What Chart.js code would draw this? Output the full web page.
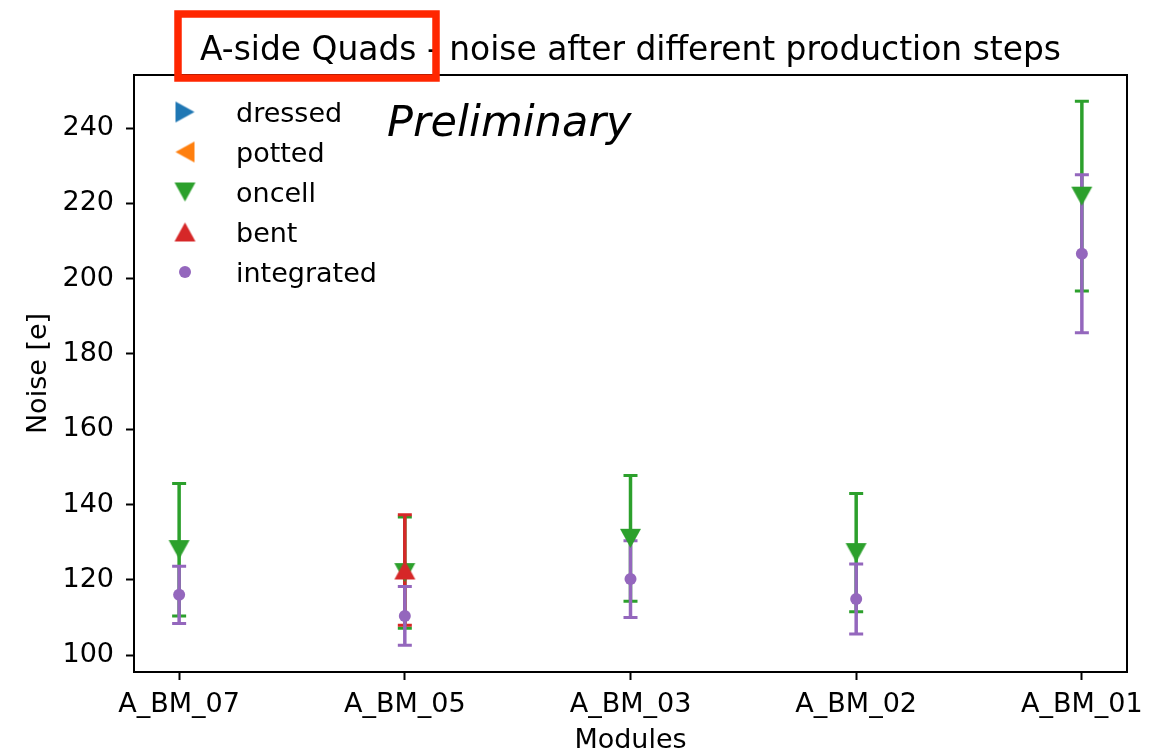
<!DOCTYPE html>
<html>
<head>
<meta charset="utf-8">
<script src="https://cdn.jsdelivr.net/npm/chart.js@4.4.1/dist/chart.umd.min.js"></script>
<style>
  html, body { margin: 0; padding: 0; background: #fff; }
  canvas { display: block; }
</style>
</head>
<body>
<canvas id="noiseChart" width="1162" height="752"></canvas>
<script>
// modules along the x axis
const modules = ['A_BM_07', 'A_BM_05', 'A_BM_03', 'A_BM_02', 'A_BM_01'];
const yTicks = [100, 120, 140, 160, 180, 200, 220, 240];

// mean noise [e] and spread per production step (null = no measurement)
const dressedNoise = [null, null, null, null, null];
const dressedErr = [null, null, null, null, null];
const pottedNoise = [null, null, null, null, null];
const pottedErr = [null, null, null, null, null];
const oncellNoise = [128.0, 121.9, 131.0, 127.2, 221.9];
const oncellErr = [17.6, 14.8, 16.7, 15.7, 25.2];
const bentNoise = [null, 122.6, null, null, null];
const bentErr = [null, 14.7, null, null, null];
const integratedNoise = [116.0, 110.4, 120.2, 114.9, 206.6];
const integratedErr = [7.6, 7.8, 10.2, 9.3, 21.0];

const FONT = "'DejaVu Sans', sans-serif";

// triangle marker centred on its bounding box (points up; rotated per series)
function triangleMarker(color) {
    const w = 21, h = 19;
    const c = document.createElement('canvas');
    c.width = w + 2;
    c.height = h + 2;
    const g = c.getContext('2d');
    g.fillStyle = color;
    g.beginPath();
    g.moveTo(1 + w / 2, 1);
    g.lineTo(1 + w, 1 + h);
    g.lineTo(1, 1 + h);
    g.closePath();
    g.fill();
    return c;
}

// later steps are drawn on top of earlier ones
function series(idx, label, noise, err, color, pointStyle, rotation, radius) {
    return {
        label: label,
        order: -idx,
        data: noise.map((v, i) => ({ x: i, y: v })),
        errors: err,
        borderColor: color,
        backgroundColor: color,
        pointStyle: pointStyle === 'triangle' ? triangleMarker(color) : pointStyle,
        rotation: rotation,
        pointRadius: radius,
        pointHoverRadius: radius,
        pointBorderWidth: 0,
        showLine: false
    };
}

// vertical error bars with caps, drawn under the markers
const errorBars = {
    id: 'errorBars',
    beforeDatasetsDraw(chart) {
        const { ctx, scales: { x, y } } = chart;
        ctx.save();
        chart.data.datasets.forEach(ds => {
            ctx.strokeStyle = ds.borderColor;
            ds.data.forEach((p, i) => {
                const e = ds.errors[i];
                if (p.y == null || e == null) return;
                const px = x.getPixelForValue(p.x);
                const top = y.getPixelForValue(p.y + e);
                const bot = y.getPixelForValue(p.y - e);
                ctx.lineWidth = 3.5;
                ctx.beginPath();
                ctx.moveTo(px, top);
                ctx.lineTo(px, bot);
                ctx.stroke();
                ctx.lineWidth = 3;
                ctx.beginPath();
                ctx.moveTo(px - 7, top); ctx.lineTo(px + 7, top);
                ctx.moveTo(px - 7, bot); ctx.lineTo(px + 7, bot);
                ctx.stroke();
            });
        });
        ctx.restore();
    }
};

// frame, title, legend and the "Preliminary" tag
const decorations = {
    id: 'decorations',
    afterDraw(chart) {
        const { ctx, chartArea: a } = chart;
        ctx.save();
        ctx.strokeStyle = '#000';
        ctx.lineWidth = 2;
        ctx.strokeRect(a.left, a.top, a.right - a.left, a.bottom - a.top);

        ctx.fillStyle = '#000';
        ctx.textAlign = 'center';
        ctx.textBaseline = 'alphabetic';
        ctx.font = '32.9px ' + FONT;
        ctx.fillText('A-side Quads - noise after different production steps', (a.left + a.right) / 2, 60);

        ctx.textAlign = 'left';
        ctx.font = 'italic 43px ' + FONT;
        ctx.fillText('Preliminary', 387, 136);

        ctx.font = '27px ' + FONT;
        chart.data.datasets.forEach((ds, i) => {
            const yy = 112 + i * 40;
            ctx.fillStyle = ds.backgroundColor;
            Chart.helpers.drawPoint(ctx, {
                pointStyle: ds.pointStyle,
                rotation: ds.rotation,
                radius: ds.pointRadius,
                borderWidth: 0
            }, 185, yy);
            ctx.fillStyle = '#000';
            ctx.fillText(ds.label, 236, yy + 10);
        });

        // highlight box around the side name
        ctx.strokeStyle = '#ff2600';
        ctx.lineWidth = 7.5;
        ctx.strokeRect(178, 14, 258, 64);
        ctx.restore();
    }
};

const ctx = document.getElementById('noiseChart').getContext('2d');
new Chart(ctx, {
    type: 'scatter',
    data: {
        datasets: [
            series(0, 'dressed', dressedNoise, dressedErr, '#1f77b4', 'triangle', 90, 11),
            series(1, 'potted', pottedNoise, pottedErr, '#ff7f0e', 'triangle', -90, 11),
            series(2, 'oncell', oncellNoise, oncellErr, '#2ca02c', 'triangle', 180, 11),
            series(3, 'bent', bentNoise, bentErr, '#d62728', 'triangle', 0, 11),
            series(4, 'integrated', integratedNoise, integratedErr, '#9467bd', 'circle', 0, 6)
        ]
    },
    options: {
        responsive: false,
        animation: false,
        layout: { padding: { top: 75, right: 35, left: 0, bottom: 0 } },
        plugins: {
            legend: { display: false },
            tooltip: { enabled: false },
            title: { display: false }
        },
        scales: {
            x: {
                type: 'linear',
                min: -0.2,
                max: 4.2,
                afterBuildTicks: scale => { scale.ticks = modules.map((m, i) => ({ value: i })); },
                afterFit: scale => { scale.height = 80; },
                ticks: {
                    autoSkip: false,
                    maxRotation: 0,
                    padding: 9,
                    color: '#000',
                    font: { family: FONT, size: 27 },
                    callback: v => modules[v]
                },
                grid: { drawOnChartArea: false, tickLength: 8, tickWidth: 2, tickColor: '#000' },
                border: { display: true, color: '#000', width: 2 },
                title: {
                    display: true,
                    text: 'Modules',
                    color: '#000',
                    font: { family: FONT, size: 27, lineHeight: 1 },
                    padding: { top: 0, bottom: -2 }
                }
            },
            y: {
                min: 95.5,
                max: 254.1,
                afterBuildTicks: scale => { scale.ticks = yTicks.map(v => ({ value: v })); },
                afterFit: scale => { scale.width = 134; },
                ticks: {
                    padding: 12,
                    color: '#000',
                    font: { family: FONT, size: 27 }
                },
                grid: { drawOnChartArea: false, tickLength: 8, tickWidth: 2, tickColor: '#000' },
                border: { display: true, color: '#000', width: 2 },
                title: {
                    display: true,
                    text: 'Noise [e]',
                    color: '#000',
                    font: { family: FONT, size: 27 },
                    padding: { top: 23, bottom: 0 }
                }
            }
        }
    },
    plugins: [errorBars, decorations]
});
</script>
</body>
</html>
